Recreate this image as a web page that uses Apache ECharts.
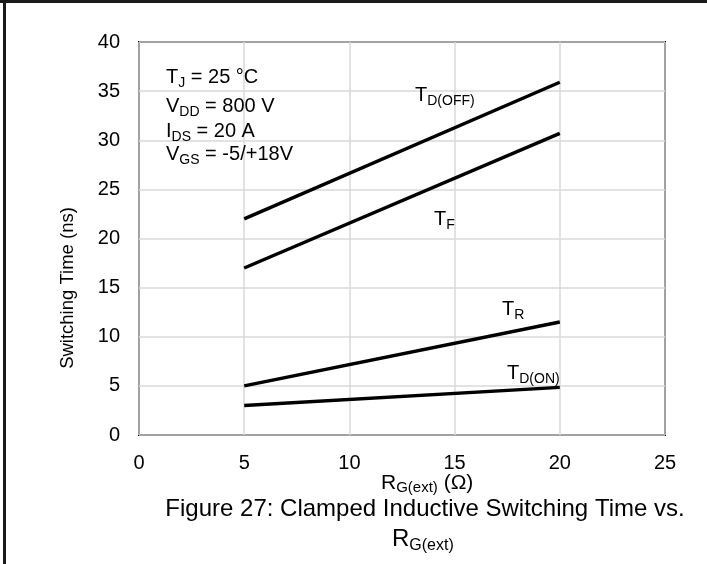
<!DOCTYPE html>
<html>
<head>
<meta charset="utf-8">
<script src="https://cdn.jsdelivr.net/npm/echarts@6/dist/echarts.min.js"></script>
<style>
  html, body { margin: 0; padding: 0; background: #fff; }
  #chart { width: 707px; height: 564px; }
</style>
</head>
<body>
<div id="chart"></div>
<script>
// External gate resistance (Ω) at the two measured points
const rg = [5, 20];
// Switching times (ns)
const tdOff = [22.0, 35.9];
const tf = [17.0, 30.7];
const tr = [5.0, 11.5];
const tdOn = [3.0, 4.85];

const xTicks = { min: 0, max: 25, interval: 5 };
const yTicks = { min: 0, max: 40, interval: 5 };

const FONT = '"Liberation Sans", Arial, sans-serif';

function pairs(xs, ys) { return xs.map((x, i) => [x, ys[i]]); }

// rich styles: main text sits at the top of the line, subscript at its bottom
function makeRich(main, sub, lh) {
  return {
    m: { fontFamily: FONT, fontSize: main, lineHeight: main, verticalAlign: 'top', color: '#000' },
    s: { fontFamily: FONT, fontSize: sub, lineHeight: lh, verticalAlign: 'bottom', color: '#000' }
  };
}
const rich = makeRich(20, 14, 23);
const richAxis = makeRich(21, 15, 22);
const richBig = makeRich(24, 16, 27);

function label(x, y, text, r) {
  return {
    type: 'text', left: x, top: y, z: 10,
    style: { text: text, rich: r || rich, fill: '#000' }
  };
}

const lineStyle = { color: '#000', width: 3.4 };

function series(name, ys) {
  return {
    name: name, type: 'line', data: pairs(rg, ys),
    symbol: 'none', lineStyle: lineStyle, z: 5, animation: false
  };
}

const chart = echarts.init(document.getElementById('chart'));
chart.setOption({
  animation: false,
  backgroundColor: '#fff',
  grid: {
    left: 139, top: 42, width: 526, height: 393,
    show: true, borderColor: '#000', borderWidth: 2, backgroundColor: 'transparent'
  },
  xAxis: {
    type: 'value', min: xTicks.min, max: xTicks.max, interval: xTicks.interval,
    axisLine: { show: false }, axisTick: { show: false },
    axisLabel: { fontFamily: FONT, fontSize: 20, color: '#000', margin: 18 },
    splitLine: { show: true, lineStyle: { color: '#d9d9d9', width: 1.5 } }
  },
  yAxis: {
    type: 'value', min: yTicks.min, max: yTicks.max, interval: yTicks.interval,
    axisLine: { show: false }, axisTick: { show: false },
    axisLabel: { fontFamily: FONT, fontSize: 20, color: '#000', margin: 19 },
    splitLine: { show: true, lineStyle: { color: '#d9d9d9', width: 1.5 } }
  },
  series: [
    series('TD(OFF)', tdOff),
    series('TF', tf),
    series('TR', tr),
    series('TD(ON)', tdOn)
  ],
  graphic: [
    // outer frame edges
    { type: 'rect', shape: { x: 0, y: 0, width: 707, height: 3 }, style: { fill: '#1a1a1a' } },
    { type: 'rect', shape: { x: 3, y: 0, width: 3, height: 564 }, style: { fill: '#1a1a1a' } },

    // test conditions
    label(166, 67, '{m|T}{s|J}{m| = 25 °C}'),
    label(166, 96, '{m|V}{s|DD}{m| = 800 V}'),
    label(166, 121, '{m|I}{s|DS}{m| = 20 A}'),
    label(166, 144, '{m|V}{s|GS}{m| = -5/+18V}'),

    // curve labels
    label(415, 85, '{m|T}{s|D(OFF)}'),
    label(434, 209, '{m|T}{s|F}'),
    label(502, 299, '{m|T}{s|R}'),
    label(507, 363, '{m|T}{s|D(ON)}'),

    // axis titles
    label(381, 473, '{m|R}{s|G(ext)}{m| (Ω)}', richAxis),
    {
      type: 'text', x: 68, y: 288, rotation: Math.PI / 2,
      style: {
        text: 'Switching Time (ns)', fontFamily: FONT, fontSize: 18.5, fill: '#000',
        align: 'center', verticalAlign: 'middle'
      }
    },

    // caption
    {
      type: 'text', x: 425, y: 509,
      style: {
        text: 'Figure 27: Clamped Inductive Switching Time vs.', fontFamily: FONT,
        fontSize: 24, fill: '#000', align: 'center', verticalAlign: 'middle'
      }
    },
    label(392, 527, '{m|R}{s|G(ext)}', richBig)
  ]
});
</script>
</body>
</html>
